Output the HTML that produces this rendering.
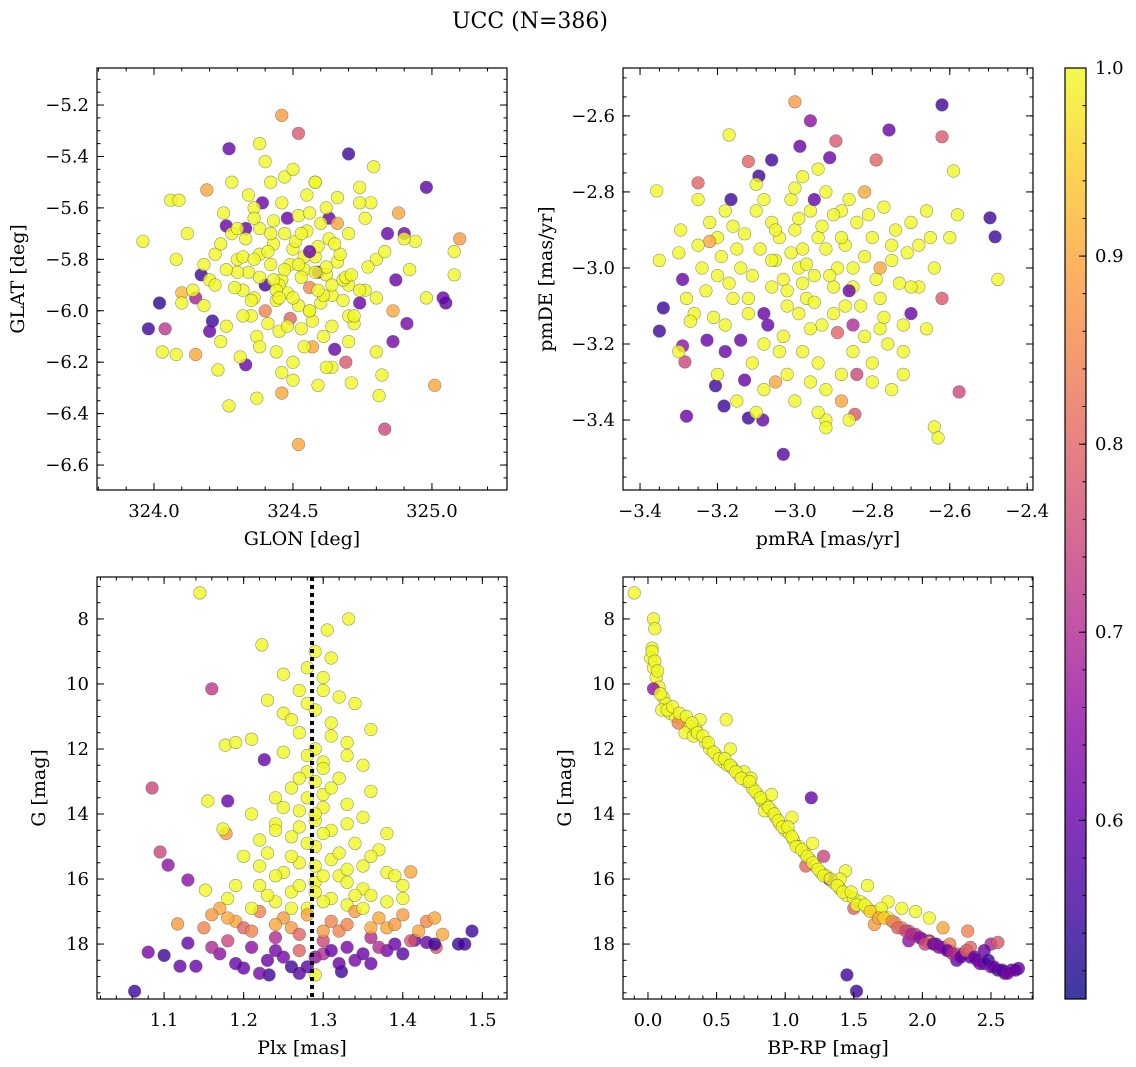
<!DOCTYPE html>
<html><head><meta charset="utf-8"><title>UCC (N=386)</title>
<style>
html,body{margin:0;padding:0;background:#fff;}
svg{display:block;font-family:"DejaVu Serif","Liberation Serif",serif;}
</style></head>
<body>
<svg id="fig" width="1136" height="1067" viewBox="0 0 1136 1067" xmlns="http://www.w3.org/2000/svg">
<defs>
<linearGradient id="plasma" x1="0" y1="1" x2="0" y2="0">
<stop offset="0" stop-color="#0d0887"/><stop offset="0.1" stop-color="#41049d"/><stop offset="0.2" stop-color="#6a00a8"/><stop offset="0.3" stop-color="#8f0da4"/><stop offset="0.4" stop-color="#b12a90"/><stop offset="0.5" stop-color="#cc4778"/><stop offset="0.6" stop-color="#e16462"/><stop offset="0.7" stop-color="#f2844b"/><stop offset="0.8" stop-color="#fca636"/><stop offset="0.9" stop-color="#fcce25"/><stop offset="1" stop-color="#f0f921"/>
</linearGradient>
</defs>
<text x="530" y="28" text-anchor="middle" font-size="22">UCC (N=386)</text>
</svg>
<script>
// ---- Panel 1: GLON vs GLAT ----
const glon = [323.96,324.02,323.98,324.04,324.03,324.08,324.06,324.09,324.10,324.10,324.15,324.15,324.17,324.19,324.21,324.23,324.27,324.27,324.28,324.33,324.38,324.46,324.52,324.52,324.70,324.79,324.98,325.05,325.10,325.08,325.08,325.01,324.83,324.81,324.86,324.91,324.90,324.94,324.98,325.04,324.37,324.46,324.50,324.59,324.71,324.65,324.69,324.33,324.26,324.39,324.48,324.63,324.59,324.74,
324.30,324.34,324.38,324.42,324.46,324.50,324.54,324.58,324.62,324.66,324.70,324.32,324.36,324.40,324.44,324.48,324.52,324.56,324.60,324.64,324.68,324.28,324.33,324.38,324.43,324.47,324.51,324.55,324.59,324.63,324.67,324.35,324.41,324.45,324.49,324.53,324.57,324.61,324.25,324.22,324.20,324.18,324.24,324.31,324.37,324.44,324.50,324.57,324.64,324.72,324.76,324.80,324.84,324.78,324.74,324.88,324.92,324.70,324.62,324.55,324.47,324.40,324.36,324.43,324.52,324.58,324.66,324.74,324.30,324.49,324.45,324.56,324.61,324.69,324.20,324.82,324.86,324.43,324.54,
324.26,324.29,324.32,324.35,324.38,324.41,324.44,324.47,324.50,324.53,
324.56,324.59,324.62,324.65,324.68,324.71,324.74,324.77,324.80,324.83,
324.87,324.90,324.22,324.18,324.14,324.24,324.36,324.46,324.56,324.66,
324.76,324.34,324.42,324.50,324.58,324.40,324.48,324.56,324.64,324.72,
324.32,324.26,324.38,324.54,324.62,324.46,324.70,324.80,324.12,324.08,
324.30,324.53,324.60,324.70,324.45,324.58,324.36,324.64,324.52,324.42];
const glat = [-5.73,-5.97,-6.07,-6.07,-6.16,-6.17,-5.57,-5.57,-5.93,-5.97,-5.95,-6.17,-5.86,-5.53,-6.04,-6.23,-6.37,-5.37,-5.50,-6.21,-5.35,-5.24,-5.31,-6.52,-5.39,-5.44,-5.52,-5.97,-5.72,-5.77,-5.86,-6.29,-6.46,-6.33,-6.12,-6.05,-5.70,-5.73,-5.95,-5.95,-6.34,-6.32,-6.27,-6.29,-6.28,-6.15,-6.20,-5.68,-5.67,-5.58,-5.64,-5.64,-5.85,-5.97,
-5.80,-5.85,-5.78,-5.82,-5.88,-5.76,-5.84,-5.79,-5.86,-5.81,-5.90,-5.92,-5.95,-5.90,-5.96,-5.93,-5.98,-5.91,-5.97,-5.94,-5.88,-5.70,-5.72,-5.68,-5.74,-5.70,-5.73,-5.69,-5.75,-5.72,-5.78,-6.02,-6.05,-6.08,-6.03,-6.07,-6.04,-6.10,-5.62,-5.78,-5.88,-5.98,-6.12,-6.18,-6.10,-6.16,-6.20,-6.14,-6.22,-6.05,-5.92,-5.80,-5.70,-5.58,-5.52,-5.62,-5.84,-6.02,-5.60,-5.55,-5.48,-5.42,-5.60,-5.65,-5.63,-5.50,-5.66,-5.58,-5.85,-5.82,-5.90,-6.00,-5.94,-5.87,-6.08,-6.25,-6.00,-5.88,-5.79,
-5.84,-5.91,-5.79,-5.96,-5.87,-5.77,-5.92,-5.84,-5.95,-5.87,
-5.77,-5.92,-5.83,-5.74,-5.96,-5.86,-5.92,-5.83,-5.95,-5.77,
-5.88,-5.72,-5.90,-5.82,-5.92,-5.74,-5.64,-5.58,-5.62,-5.56,
-5.64,-5.55,-5.50,-5.45,-5.50,-6.00,-6.06,-6.00,-6.06,-6.02,
-6.02,-6.06,-6.14,-6.14,-6.22,-6.24,-6.12,-6.16,-5.70,-5.80,
-5.68,-5.70,-5.66,-5.70,-5.95,-5.85,-5.80,-5.90,-5.82,-5.70];
const prob1 = [1,.53,.55,.72,1,1,1,1,.92,1,.68,.90,.55,.90,.55,1,1,.60,1,.60,1,.88,.78,.90,.55,1,.58,.58,.88,1,1,.90,.75,1,.62,.62,.62,1,1,.60,1,.90,1,1,1,.60,.78,.60,.60,.60,.60,.60,.60,.60,
1,1,1,1,1,1,1,1,1,1,1,1,1,.55,1,1,1,.85,1,1,1,1,1,1,1,1,1,1,1,1,1,1,1,1,.80,1,1,1,1,1,1,1,1,1,1,1,1,.90,1,1,1,1,.60,1,1,.90,1,1,1,1,1,1,1,1,1,1,.90,1,1,1,1,1,1,1,.60,1,.90,1,1,1,
1,1,1,1,1,1,1,1,1,.6,
1,1,1,1,1,1,1,1,1,.6,
1,1,1,1,1,1,1,1,1,1,
1,1,1,1,.85,1,1,1,1,1,
1,1,1,1,1,1,1,1,1,1,
1,1,1,1,1,1,1,1,1,1];

// ---- Panel 2: pmRA vs pmDE ----
const pmra = [-3.357,-3.34,-3.35,-3.295,-3.29,-3.29,-3.284,-3.28,-3.25,-3.227,-3.205,-3.183,-3.17,-3.165,-3.13,-3.093,-3.06,-3.12,-3.083,-3.03,-3.0,-2.96,-2.987,-2.91,-2.894,-2.79,-2.757,-2.62,-2.62,-2.59,-2.496,-2.483,-2.476,-2.576,-2.64,-2.63,-2.75,-2.845,-2.92,-2.92,
-3.30,-3.26,-3.22,-3.20,-3.18,-3.15,-3.12,-3.10,-3.08,-3.05,-3.02,-3.00,-2.98,-2.95,-2.92,-2.90,-2.88,-2.85,-2.82,-2.80,-2.78,-2.75,-2.72,-2.70,-2.68,-2.65,-2.60,-2.58,-3.06,-3.04,-2.99,-2.97,-2.94,-2.93,-2.89,-2.87,-2.96,-3.01,-3.10,-3.14,-3.16,-3.20,-3.24,-3.28,-3.11,-3.02,-2.96,-2.88,-2.85,-2.80,-2.76,-2.72,-2.74,-2.84,-2.92,-3.06,-3.18,-3.25,-2.98,-2.90,-3.08,-2.95,-2.85,-2.78,-2.70,-2.62,-3.22,-3.05,-2.82,-2.88,-3.30,-3.35,-2.98,-3.15,-2.94,-2.80,-2.70,-2.66,-2.99,-3.03,
-3.19,-3.17,-3.13,-3.11,-3.09,-3.07,-3.05,-3.03,-3.01,-2.99,
-2.97,-2.95,-2.93,-2.91,-2.89,-2.87,-2.85,-2.83,-2.81,-2.79,
-2.77,-2.75,-2.73,-2.71,-3.23,-3.21,-3.25,-3.27,-3.14,-3.04,
-2.94,-2.84,-2.78,-3.00,-3.08,-2.92,-3.16,-3.08,-3.00,-2.90,
-2.86,-2.77,-2.68,-2.64,-3.12,-3.02,-2.96,-2.86,-2.82,-3.06,
-2.98,-2.88,-3.18,-3.10,-3.20,-2.66,-2.72,-2.94,-3.12,-2.86];
const pmde = [-2.797,-3.105,-3.166,-2.90,-3.03,-3.205,-3.247,-3.39,-2.776,-3.19,-3.31,-3.363,-2.65,-2.82,-3.295,-2.758,-2.716,-3.395,-3.40,-3.49,-2.563,-2.613,-2.68,-2.71,-2.666,-2.716,-2.637,-2.571,-2.655,-2.745,-2.868,-2.918,-3.03,-3.326,-3.418,-3.447,-3.32,-3.385,-3.40,-3.42,
-2.96,-3.12,-2.88,-3.02,-3.15,-2.95,-3.08,-2.85,-3.20,-2.98,-3.10,-2.90,-3.22,-3.02,-2.95,-3.12,-2.85,-3.05,-3.18,-2.92,-3.08,-2.98,-3.15,-2.88,-3.05,-2.92,-2.92,-2.86,-3.05,-2.92,-3.00,-3.08,-2.92,-3.15,-3.00,-3.10,-2.85,-2.82,-2.78,-3.00,-3.08,-2.92,-3.00,-3.08,-3.25,-3.28,-3.30,-3.28,-3.22,-3.25,-3.20,-3.22,-2.90,-2.88,-2.80,-2.88,-2.85,-2.82,-2.95,-3.05,-3.12,-2.82,-3.15,-3.00,-3.12,-3.08,-2.93,-3.30,-2.80,-3.35,-3.22,-2.98,-2.76,-3.35,-3.38,-3.30,-3.05,-2.85,-2.87,-3.18,
-2.97,-3.04,-2.91,-3.02,-2.95,-3.15,-2.90,-3.03,-2.96,-3.12,
-2.99,-3.09,-2.89,-3.02,-3.17,-2.94,-3.00,-3.10,-2.86,-3.03,
-3.13,-2.94,-3.04,-2.96,-3.06,-3.13,-2.94,-3.14,-3.19,-3.22,
-3.25,-3.28,-3.16,-3.35,-3.32,-3.32,-2.89,-2.82,-2.79,-2.86,
-2.82,-2.84,-2.94,-3.00,-3.12,-3.06,-3.16,-3.06,-2.97,-2.98,
-3.04,-2.92,-3.22,-3.38,-3.28,-3.16,-3.28,-2.74,-2.72,-3.40];
const prob2 = [1,.55,.55,1,.60,.65,.75,.60,.80,.60,.55,.55,1,.55,.60,.55,.55,.55,.60,.58,.88,.65,.60,.60,.78,.80,.60,.55,.78,1,.55,.55,1,.75,1,1,1,.78,1,1,
1,1,1,1,1,1,1,1,1,1,1,1,1,1,1,1,1,1,1,1,1,1,1,1,1,1,1,1,1,1,1,1,1,1,1,1,1,1,1,1,1,1,1,1,1,1,1,1,1,1,1,1,1,1,1,1,1,1,1,1,.60,.60,.70,.90,.60,.78,.90,.90,.90,.90,1,1,1,1,1,1,1,1,1,1,
1,1,1,1,1,.6,1,1,1,1,
1,1,1,1,.8,1,1,1,1,1,
1,1,1,1,1,1,1,1,.6,1,
1,.75,1,1,1,1,1,1,1,1,
1,1,1,1,1,1,1,.6,1,1,
1,1,.6,1,1,1,1,1,.8,1];

// ---- Panel 3: Plx vs G ----
const plx = [1.145,1.332,1.305,1.223,1.16,1.085,1.095,1.105,1.13,1.18,1.178,1.174,1.155,1.177,1.226,1.063,1.08,1.10,1.12,1.14,1.13,1.117,1.152,1.487,1.478,1.442,1.43,1.41,1.415,1.20,1.232,1.323,1.29,
1.29,1.28,1.30,1.27,1.32,1.29,1.25,1.34,1.31,1.27,1.33,1.29,1.25,1.30,1.28,1.32,1.26,1.30,1.33,1.27,1.29,1.24,1.35,1.31,1.26,1.22,1.34,1.29,1.37,1.23,1.31,1.27,1.35,1.20,1.25,1.32,1.38,1.29,1.22,1.35,1.26,1.31,1.40,1.18,1.24,1.33,1.28,1.21,1.19,1.23,1.25,1.31,1.35,1.36,1.24,1.21,1.36,1.38,1.39,1.17,
1.16,1.19,1.22,1.25,1.28,1.31,1.34,1.37,1.40,1.43,1.18,1.21,1.24,1.27,1.30,1.33,1.36,1.39,1.23,1.26,1.29,1.32,1.35,1.38,1.20,1.26,1.32,1.38,1.15,1.45,1.41,1.17,1.24,1.30,1.36,1.22,1.27,
1.28,1.30,1.29,1.31,1.28,1.30,1.29,1.27,1.30,1.28,
1.32,1.26,1.29,1.33,1.24,1.30,1.27,1.33,1.36,1.23,
1.29,1.30,1.26,1.34,1.38,1.21,1.36,1.24,1.33,1.27,
1.31,1.26,1.30,1.28,1.33,1.25,1.22,1.35,1.40,1.19,
1.18,1.21,1.24,1.27,1.30,1.33,1.36,1.39,1.42,1.44,
1.16,1.19,1.25,1.28,1.31,1.34,1.37,1.40,1.44,1.47];
const gmag3 = [7.2,8.0,8.34,8.8,10.15,13.2,15.17,15.57,16.03,13.6,14.6,14.46,13.6,11.88,12.33,19.45,18.25,18.35,18.68,18.68,17.97,17.38,16.34,17.6,18.0,18.1,17.95,15.78,17.88,18.74,18.95,18.85,18.95,
9.0,9.5,9.8,10.2,10.4,10.8,10.9,10.6,11.2,11.5,11.8,12.0,12.1,12.4,12.7,12.9,13.2,13.4,13.7,13.9,14.2,14.3,14.1,14.5,14.7,14.8,14.9,15.0,15.1,15.2,15.4,15.5,15.6,15.3,15.8,15.9,15.8,16.1,16.2,16.3,16.4,16.6,16.2,16.6,16.7,16.8,16.9,11.7,11.8,10.5,9.7,9.2,12.5,11.4,13.5,14.0,13.3,14.6,15.9,16.9,
17.1,17.3,17.0,17.2,17.1,17.3,17.0,17.2,17.1,17.3,17.9,18.1,17.8,18.2,17.9,18.1,17.8,18.0,18.5,18.7,18.4,18.6,18.3,18.2,17.5,17.5,17.6,17.5,17.5,17.7,17.9,18.3,18.2,18.3,18.6,18.9,18.9,
12.2,12.6,13.0,13.2,13.5,13.8,14.0,14.4,14.6,14.9,
15.2,15.3,15.6,15.7,15.9,15.9,16.2,16.1,16.5,16.5,
16.4,16.7,16.9,16.5,16.7,16.9,15.3,14.5,14.3,12.9,
11.6,11.1,10.2,10.6,12.2,13.8,15.6,16.9,16.6,16.2,
17.2,17.6,17.4,17.7,17.6,17.4,17.5,17.4,17.6,17.2,
18.1,18.6,18.4,18.7,18.2,18.5,18.1,18.3,18.0,18.0];
const prob3 = [1,1,1,1,.72,.75,.75,.65,.65,.60,.88,1,1,1,.60,.55,.62,.55,.60,.60,.60,.88,1,.55,.55,.78,.60,.90,.60,.60,.55,.55,1,
1,1,1,1,1,1,1,1,1,1,1,1,1,1,1,1,1,1,1,1,1,1,1,1,1,1,1,1,1,1,1,1,1,1,1,1,1,1,1,1,1,1,1,1,1,1,1,1,1,1,1,1,1,1,1,1,1,1,1,.90,
.88,.90,.85,.88,.90,.85,.88,.90,.88,.85,.75,.65,.70,.80,.75,.62,.70,.60,.60,.55,.65,.60,.60,.62,.80,.88,.85,.90,.85,.90,.78,.65,.62,.70,.60,.62,.58,
1,1,1,1,1,1,1,1,1,1,
1,1,1,1,1,1,1,1,1,1,
1,1,1,1,1,1,1,1,1,1,
1,1,1,1,1,1,1,1,1,1,
.9,.85,.9,.8,.88,.85,.9,.88,.9,.9,
.7,.6,.62,.58,.6,.62,.7,.58,.55,.55];
const plxMedian = [1.286];

// ---- Panel 4: BP-RP vs G ----
const bprp = [-0.10,0.04,0.05,0.03,0.02,0.04,0.06,0.08,0.04,0.11,0.13,0.10,0.16,0.20,0.25,0.30,0.27,0.33,0.38,0.42,0.45,0.50,0.55,0.58,0.62,0.66,0.70,0.72,0.76,0.80,0.83,0.86,0.90,0.93,0.96,1.00,1.03,1.06,1.10,1.14,1.18,1.22,1.26,1.30,1.35,1.40,1.45,1.50,1.55,1.60,1.65,1.70,1.75,1.80,1.85,1.90,1.95,2.00,2.05,2.10,2.15,2.20,2.25,2.30,2.35,2.40,2.45,2.50,2.55,2.60,2.65,2.70,
1.19,1.45,1.52,0.57,0.60,1.44,1.60,1.75,1.85,1.95,2.05,2.15,2.33,2.05,2.20,2.35,2.50,2.55,2.45,1.28,1.32,1.50,1.65,1.90,2.25,2.60,0.90,1.05,1.20,0.75,0.35,0.22,1.15,1.40,1.70,
0.03,0.05,0.07,0.09,0.14,0.18,0.23,0.28,0.32,0.36,
0.40,0.44,0.48,0.52,0.56,0.60,0.64,0.68,0.74,0.78,
0.82,0.85,0.88,0.92,0.95,0.98,1.02,1.05,1.08,1.12,
1.16,1.20,1.24,1.28,1.33,1.38,1.42,1.48,1.52,1.58,
1.62,1.68,1.72,1.78,1.82,1.88,1.92,1.98,2.02,2.08,
2.12,2.18,2.22,2.28,2.32,2.38,2.42,2.48,2.52,2.58,
2.62,2.68];
const gmag4 = [7.2,8.0,8.3,8.9,9.2,9.5,9.8,10.1,10.15,10.4,10.6,10.8,10.9,11.0,11.1,11.3,11.5,11.6,11.1,11.8,12.0,12.2,12.4,12.5,12.6,12.8,12.7,13.0,13.2,13.4,13.6,13.7,13.9,14.1,14.3,14.5,14.6,14.8,15.0,15.2,15.4,15.6,15.8,15.9,16.1,16.3,16.5,16.6,16.7,16.9,17.0,17.1,17.2,17.35,17.5,17.6,17.7,17.85,17.9,18.0,18.1,18.2,18.3,18.3,18.4,18.5,18.6,18.7,18.8,18.9,18.8,18.75,
13.5,18.95,19.45,11.1,12.0,15.75,16.2,16.7,16.9,17.0,17.2,17.5,17.6,17.95,18.0,18.1,18.0,17.95,18.2,15.3,16.0,16.9,17.4,17.9,18.5,18.85,13.4,14.1,14.9,12.9,11.4,11.2,15.6,16.0,16.9,
9.0,9.3,9.6,10.3,10.8,10.7,10.9,11.0,11.2,11.5,
11.6,11.8,12.1,12.3,12.3,12.5,12.7,12.9,13.0,13.3,
13.5,13.9,13.8,14.0,14.2,14.4,14.4,14.7,15.0,15.1,
15.3,15.5,15.7,15.9,16.0,16.2,16.4,16.4,16.8,16.8,
17.0,17.2,17.2,17.3,17.5,17.6,17.7,17.8,18.0,18.0,
18.1,18.2,18.3,18.4,18.2,18.4,18.6,18.5,18.7,18.8,
18.9,18.8];
const prob4 = [1,1,1,1,1,1,1,1,.65,1,1,1,1,1,1,1,1,1,1,1,1,1,1,1,1,1,1,1,1,1,1,1,1,1,1,1,1,1,1,1,1,1,1,1,1,1,1,1,1,1,1,1,1,.90,.85,.80,.75,.70,.65,.62,.60,.70,.80,.65,.60,.62,.60,.65,.55,.60,.62,.60,
.60,.55,.55,1,1,1,1,1,1,1,1,.90,.85,.90,.85,.80,.70,.78,.60,.75,.60,.80,.88,.65,.60,.55,1,1,1,1,1,.85,.80,1,1,
1,1,1,1,1,1,1,1,1,1,
1,1,1,1,1,1,1,1,1,1,
1,1,1,1,1,1,1,1,1,1,
1,1,1,1,1,1,1,1,1,1,
.95,.9,.95,.85,.8,.75,.7,.65,.75,.6,
.65,.6,.7,.6,.8,.6,.62,.55,.6,.58,
.62,.6];

// ---- Colorbar ----
const cbTicks = [0.6,0.7,0.8,0.9,1.0];
const cbRange = [0.505,1.0];

const NS = 'http://www.w3.org/2000/svg';
const svg = document.getElementById('fig');
const stops = [[0,'#0d0887'],[.1,'#41049d'],[.2,'#6a00a8'],[.3,'#8f0da4'],[.4,'#b12a90'],[.5,'#cc4778'],[.6,'#e16462'],[.7,'#f2844b'],[.8,'#fca636'],[.9,'#fcce25'],[1,'#f0f921']];
function hex(h){return [1,3,5].map(i=>parseInt(h.substr(i,2),16));}
function plasma(v){
  let t=(v-cbRange[0])/(cbRange[1]-cbRange[0]); t=Math.max(0,Math.min(1,t));
  for(let i=1;i<stops.length;i++){ if(t<=stops[i][0]){ const a=stops[i-1],b=stops[i]; const f=(t-a[0])/(b[0]-a[0]); const ca=hex(a[1]),cb=hex(b[1]); return 'rgb('+ca.map((c,k)=>Math.round(c+(cb[k]-c)*f)).join(',')+')'; } }
  return stops[stops.length-1][1];
}
function mk(tag,attrs,parent){const e=document.createElementNS(NS,tag);for(const k in attrs)e.setAttribute(k,attrs[k]);(parent||svg).appendChild(e);return e;}
function fmt(v,d){const s=Math.abs(v).toFixed(d);return (v<0?'\u2212':'')+s;}

function panel(o){
  const g=mk('g',{});
  
  
  const {L,T,R,B}=o.box;
  const sx=v=>L+(v-o.xd[0])/(o.xd[1]-o.xd[0])*(R-L);
  const sy=v=>o.yinv? T+(v-o.yd[0])/(o.yd[1]-o.yd[0])*(B-T) : B-(v-o.yd[0])/(o.yd[1]-o.yd[0])*(B-T);
  const pts=mk('g',{},g);
  
  
  const clip='clip-'+o.name;
  const cp=mk('clipPath',{id:clip},g); mk('rect',{x:L,y:T,width:R-L,height:B-T},cp);
  pts.setAttribute('clip-path','url(#'+clip+')');
  for(let i=0;i<o.xs.length;i++){
    const c=mk('circle',{cx:sx(o.xs[i]).toFixed(1),cy:sy(o.ys[i]).toFixed(1),r:6.3,fill:plasma(o.cs[i]),'fill-opacity':0.8,stroke:'#555','stroke-opacity':0.6,'stroke-width':0.6},pts);
    
    
  }
  if(o.vline){ for(const v of o.vline){ const l=mk('line',{x1:sx(v),x2:sx(v),y1:T,y2:B,stroke:'#000','stroke-width':4,'stroke-dasharray':'4 4'},g);
    
     } }
  const frame=mk('rect',{x:L,y:T,width:R-L,height:B-T,fill:'none',stroke:'#000','stroke-width':1.2},g);
  
  
  const tk=mk('g',{stroke:'#000','stroke-width':1},g);
  const eps=1e-9;
  const mn=(d,step)=>{const a=[];for(let v=Math.ceil(d[0]/step-eps)*step;v<=d[1]+eps;v+=step)a.push(v);return a;};
  for(const v of mn(o.xd,o.xmin)){const x=sx(v);mk('line',{x1:x,x2:x,y1:B,y2:B-3.5},tk);mk('line',{x1:x,x2:x,y1:T,y2:T+3.5},tk);}
  for(const v of mn(o.yd,o.ymin)){const y=sy(v);mk('line',{x1:L,x2:L+3.5,y1:y,y2:y},tk);mk('line',{x1:R,x2:R-3.5,y1:y,y2:y},tk);}
  for(const v of o.xt){const x=sx(v);mk('line',{x1:x,x2:x,y1:B,y2:B-7},tk);mk('line',{x1:x,x2:x,y1:T,y2:T+7},tk);
    const t=mk('text',{x:x,y:B+27,'text-anchor':'middle','font-size':18},g);t.textContent=fmt(v,o.xdp);
    
    }
  for(const v of o.yt){const y=sy(v);mk('line',{x1:L,x2:L+7,y1:y,y2:y},tk);mk('line',{x1:R,x2:R-7,y1:y,y2:y},tk);
    const t=mk('text',{x:L-8,y:y+6,'text-anchor':'end','font-size':18},g);t.textContent=fmt(v,o.ydp);
    
    }
  const xl=mk('text',{x:(L+R)/2,y:B+55,'text-anchor':'middle','font-size':19},g);xl.textContent=o.xlabel;
  
  
  const yx=o.ylx;
  const yl=mk('text',{x:yx,y:(T+B)/2,'text-anchor':'middle','font-size':19,transform:'rotate(-90 '+yx+' '+(T+B)/2+')'},g);yl.textContent=o.ylabel;
  
  
}

panel({name:'glon-glat-panel',box:{L:97,T:68,R:507,B:490},xd:[323.795,325.27],yd:[-6.697,-5.056],xt:[324.0,324.5,325.0],yt:[-5.2,-5.4,-5.6,-5.8,-6.0,-6.2,-6.4,-6.6],xmin:0.1,ymin:0.05,xdp:1,ydp:1,xs:glon,ys:glat,cs:prob1,xlabel:'GLON [deg]',ylabel:'GLAT [deg]',ylx:24});
panel({name:'pm-panel',box:{L:623,T:68,R:1033,B:490},xd:[-3.444,-2.385],yd:[-3.584,-2.474],xt:[-3.4,-3.2,-3.0,-2.8,-2.6,-2.4],yt:[-2.6,-2.8,-3.0,-3.2,-3.4],xmin:0.05,ymin:0.05,xdp:1,ydp:1,xs:pmra,ys:pmde,cs:prob2,xlabel:'pmRA [mas/yr]',ylabel:'pmDE [mas/yr]',ylx:552});
panel({name:'plx-g-panel',box:{L:97,T:577,R:507,B:999},xd:[1.0157,1.531],yd:[6.71,19.69],yinv:true,xt:[1.1,1.2,1.3,1.4,1.5],yt:[8,10,12,14,16,18],xmin:0.02,ymin:0.5,xdp:1,ydp:0,xs:plx,ys:gmag3,cs:prob3,vline:plxMedian,xlabel:'Plx [mas]',ylabel:'G [mag]',ylx:45});
panel({name:'cmd-panel',box:{L:623,T:577,R:1033,B:999},xd:[-0.182,2.806],yd:[6.71,19.69],yinv:true,xt:[0,0.5,1.0,1.5,2.0,2.5],yt:[8,10,12,14,16,18],xmin:0.1,ymin:0.5,xdp:1,ydp:0,xs:bprp,ys:gmag4,cs:prob4,xlabel:'BP-RP [mag]',ylabel:'G [mag]',ylx:571});

// colorbar
(function(){
  const L=1065,R=1086,T=68,B=999;
  const g=mk('g',{});
  
  
  mk('rect',{x:L,y:T,width:R-L,height:B-T,fill:'url(#plasma)','fill-opacity':0.8},g);
  mk('rect',{x:L,y:T,width:R-L,height:B-T,fill:'none',stroke:'#000','stroke-width':1.2},g);
  const sy=v=>B-(v-cbRange[0])/(cbRange[1]-cbRange[0])*(B-T);
  for(let v=0.52;v<=1.0001;v+=0.02){const y=sy(v);mk('line',{x1:R,x2:R-3.5,y1:y,y2:y,stroke:'#000'},g);}
  for(const v of cbTicks){const y=sy(v);mk('line',{x1:R,x2:R-7,y1:y,y2:y,stroke:'#000'},g);
    const t=mk('text',{x:R+9,y:y+6,'font-size':18},g);t.textContent=v.toFixed(1);
    
    }
})();
</script>
</body></html>
